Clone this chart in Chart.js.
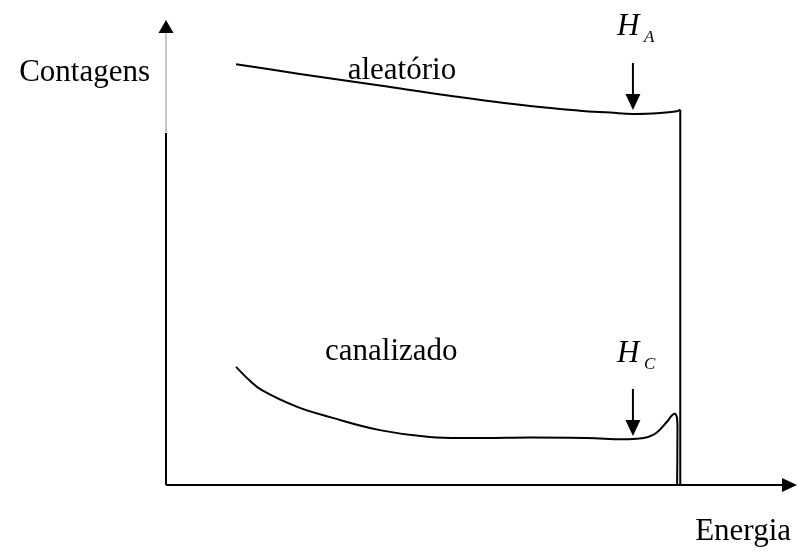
<!DOCTYPE html>
<html>
<head>
<meta charset="utf-8">
<script src="https://cdn.jsdelivr.net/npm/chart.js@4"></script>
<style>
  body { margin: 0; background: #fff; }
  canvas { display: block; }
</style>
</head>
<body>
<canvas id="grafico" width="798" height="554"></canvas>
<script>
// Espectros (energia x contagens), escala arbitraria 0-100
var energiaAleatorio = [11.1, 21.2, 33.9, 45.0, 57.7, 65.6, 70.4, 74.0, 78.3, 81.0, 81.5];
var contagensAleatorio = [90.5, 88.4, 85.9, 83.7, 81.5, 80.5, 80.1, 79.8, 80.0, 80.4, 80.7];

// borda do espectro aleatorio (queda vertical)
var energiaBorda = [81.5, 81.5];
var contagensBorda = [80.7, 0];

var energiaCanalizado = [11.1, 13.0, 15.2, 20.8, 26.0, 33.9, 41.8, 49.8, 57.7, 66.7, 74.0, 77.2, 79.4, 80.2, 80.7, 81.0, 81.05, 81.0];
var contagensCanalizado = [25.4, 22.8, 20.4, 16.8, 14.6, 11.8, 10.3, 10.1, 10.2, 10.1, 9.9, 10.8, 13.6, 15.0, 15.3, 14.2, 10.5, 0];

// posicao das setas da superficie (H_A e H_C)
var energiaSuperficie = 74.0;
var nomesCurvas = ['aleatório', 'canalizado'];
var tituloY = 'Contagens';
var tituloX = 'Energia';
var subscritos = ['A', 'C'];

function pontos(xs, ys) {
  var arr = [];
  for (var i = 0; i < xs.length; i++) {
    arr.push({ x: xs[i], y: ys[i] });
  }
  return arr;
}

function contagemEm(xs, ys, e) {
  for (var i = 1; i < xs.length; i++) {
    if (xs[i] >= e) {
      var t = (e - xs[i - 1]) / (xs[i] - xs[i - 1]);
      return ys[i - 1] + t * (ys[i] - ys[i - 1]);
    }
  }
  return ys[ys.length - 1];
}

function seta(ctx, x, y0, y1) {
  // seta vertical apontando para baixo, ponta em y1
  ctx.beginPath();
  ctx.moveTo(x, y0);
  ctx.lineTo(x, y1 - 14);
  ctx.lineWidth = 2;
  ctx.stroke();
  ctx.beginPath();
  ctx.moveTo(x - 7.5, y1 - 16);
  ctx.lineTo(x + 7.5, y1 - 16);
  ctx.lineTo(x, y1);
  ctx.closePath();
  ctx.fill();
}

var eixos = {
  id: 'eixos',
  afterDraw: function (chart) {
    var ctx = chart.ctx;
    var xs = chart.scales.x;
    var ys = chart.scales.y;
    var x0 = xs.getPixelForValue(0);
    var y0 = ys.getPixelForValue(0);
    var xMax = xs.getPixelForValue(100);
    var yMax = ys.getPixelForValue(100);

    ctx.save();
    ctx.strokeStyle = '#000';
    ctx.fillStyle = '#000';

    // eixo y
    ctx.beginPath();
    ctx.strokeStyle = '#8a8a8a';
    ctx.lineWidth = 1;
    ctx.moveTo(x0, yMax + 12);
    ctx.lineTo(x0, yMax + 112);
    ctx.stroke();
    ctx.beginPath();
    ctx.strokeStyle = '#000';
    ctx.lineWidth = 2;
    ctx.moveTo(x0, yMax + 113);
    ctx.lineTo(x0, y0);
    ctx.stroke();
    ctx.beginPath();
    ctx.moveTo(x0, yMax);
    ctx.lineTo(x0 - 7.5, yMax + 13);
    ctx.lineTo(x0 + 7.5, yMax + 13);
    ctx.closePath();
    ctx.fill();

    // eixo x
    ctx.beginPath();
    ctx.moveTo(x0, y0);
    ctx.lineTo(xMax - 14, y0);
    ctx.stroke();
    ctx.beginPath();
    ctx.moveTo(xMax, y0);
    ctx.lineTo(xMax - 15, y0 - 7);
    ctx.lineTo(xMax - 15, y0 + 7);
    ctx.closePath();
    ctx.fill();

    // setas H_A e H_C
    var px = xs.getPixelForValue(energiaSuperficie);
    var tipA = ys.getPixelForValue(contagemEm(energiaAleatorio, contagensAleatorio, energiaSuperficie)) - 4;
    var tipC = ys.getPixelForValue(contagemEm(energiaCanalizado, contagensCanalizado, energiaSuperficie)) - 3;
    seta(ctx, px, tipA - 47, tipA);
    seta(ctx, px, tipC - 47, tipC);

    // textos
    ctx.font = '31px "Liberation Serif", "Times New Roman", serif';
    ctx.textBaseline = 'alphabetic';
    ctx.textAlign = 'right';
    ctx.fillText(tituloY, x0 - 16, yMax + 61);
    ctx.fillText(tituloX, xMax - 6, y0 + 55);
    ctx.textAlign = 'left';
    ctx.fillText(nomesCurvas[0], xs.getPixelForValue(28.8), yMax + 59);
    ctx.fillText(nomesCurvas[1], xs.getPixelForValue(25.2), ys.getPixelForValue(25.4) - 7);

    // H com subscrito
    var rotulos = [[tipA - 75, subscritos[0]], [tipC - 74, subscritos[1]]];
    for (var i = 0; i < rotulos.length; i++) {
      var base = rotulos[i][0];
      ctx.font = 'italic 31px "Liberation Serif", "Times New Roman", serif';
      ctx.fillText('H', px - 16, base);
      ctx.font = 'italic 17px "Liberation Serif", "Times New Roman", serif';
      ctx.fillText(rotulos[i][1], px + 11, base + 7);
    }
    ctx.restore();
  }
};

var linha = { borderColor: '#000', borderWidth: 2, pointRadius: 0, fill: false };

var ctx = document.getElementById('grafico').getContext('2d');
var chart = new Chart(ctx, {
  type: 'line',
  data: {
    datasets: [
      Object.assign({ label: nomesCurvas[0], data: pontos(energiaAleatorio, contagensAleatorio), tension: 0.4 }, linha),
      Object.assign({ label: 'borda', data: pontos(energiaBorda, contagensBorda), tension: 0 }, linha),
      Object.assign({ label: nomesCurvas[1], data: pontos(energiaCanalizado, contagensCanalizado), tension: 0.4 }, linha)
    ]
  },
  options: {
    responsive: false,
    animation: false,
    layout: { padding: { left: 166, right: 1, top: 20, bottom: 69 } },
    plugins: { legend: { display: false }, tooltip: { enabled: false } },
    scales: {
      x: { type: 'linear', min: 0, max: 100, display: false },
      y: { min: 0, max: 100, display: false }
    }
  },
  plugins: [eixos]
});
</script>
</body>
</html>
